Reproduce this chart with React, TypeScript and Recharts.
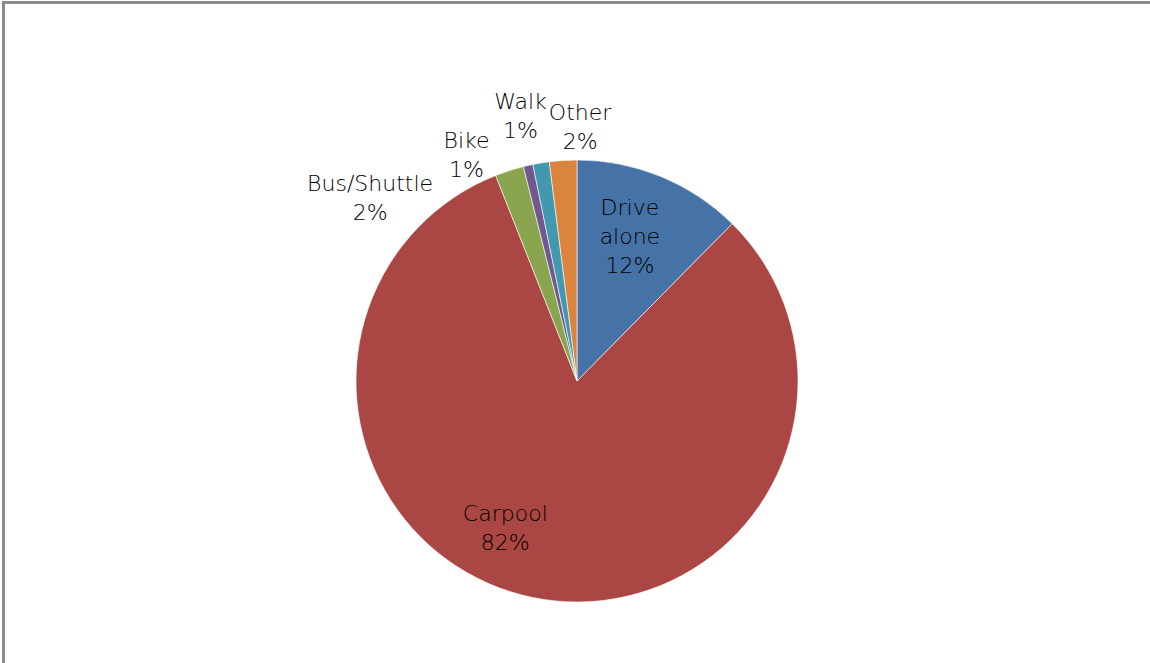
import { Cell, Pie, PieChart } from "recharts";

const modes = ["Drive alone", "Carpool", "Bus/Shuttle", "Bike", "Walk", "Other"];
const shares = [12.4, 81.6, 2.1, 0.7, 1.2, 2.0];
const sliceColors = ["#4572A7", "#AA4643", "#89A54E", "#71588F", "#4198AF", "#DB843D"];

// where Excel put each label: angle clockwise from 12 o'clock, distance as a share of the radius
const labelSpots = [
  { angle: 20, dist: 0.7 },
  { angle: 206, dist: 0.74 },
  { angle: -48.5, dist: 1.25 },
  { angle: -26, dist: 1.14 },
  { angle: -12, dist: 1.23 },
  { angle: 0.7, dist: 1.15 },
];

const data = modes.map((name, i) => ({ name, value: shares[i] }));
const total = shares.reduce((a, b) => a + b, 0);

const FONT = "'DejaVu Sans', sans-serif";

function renderLabel(props: any) {
  const { cx, cy, outerRadius, index, name, value } = props;
  const spot = labelSpots[index];
  const rad = (spot.angle * Math.PI) / 180;
  const x = cx + Math.sin(rad) * outerRadius * spot.dist;
  const y = cy - Math.cos(rad) * outerRadius * spot.dist;
  const lines = name === "Drive alone" ? ["Drive", "alone"] : [name];
  lines.push(`${Math.round((value / total) * 100)}%`);
  const lh = 29;
  const top = y - ((lines.length - 1) * lh) / 2;
  return (
    <text
      x={x}
      y={top}
      textAnchor="middle"
      dominantBaseline="central"
      fill="#000"
      fontSize={22}
      fontFamily={FONT}
      fontWeight={200}
    >
      {lines.map((l, k) => (
        <tspan key={k} x={x} y={top + k * lh} dominantBaseline="central">
          {l}
        </tspan>
      ))}
    </text>
  );
}

export default function App() {
  return (
    <div style={{ position: "fixed", left: 0, top: 0, width: 1150, height: 663, background: "#fff", overflow: "hidden" }}>
      <div
        style={{
          position: "absolute",
          left: 2,
          top: 1,
          width: 1145,
          height: 700,
          border: "3px solid #8c8c8c",
        }}
      />
      <div style={{ position: "absolute", left: 0, top: 0 }}>
        <PieChart width={1150} height={663} margin={{ top: 0, right: 0, bottom: 0, left: 0 }}>
          <Pie
            data={data}
            dataKey="value"
            nameKey="name"
            cx={577}
            cy={381}
            outerRadius={221}
            startAngle={90}
            endAngle={-270}
            stroke="#ffffff"
            strokeWidth={0.6}
            label={renderLabel}
            labelLine={false}
            isAnimationActive={false}
          >
            {data.map((d, i) => (
              <Cell key={d.name} fill={sliceColors[i]} />
            ))}
          </Pie>
        </PieChart>
      </div>
    </div>
  );
}
